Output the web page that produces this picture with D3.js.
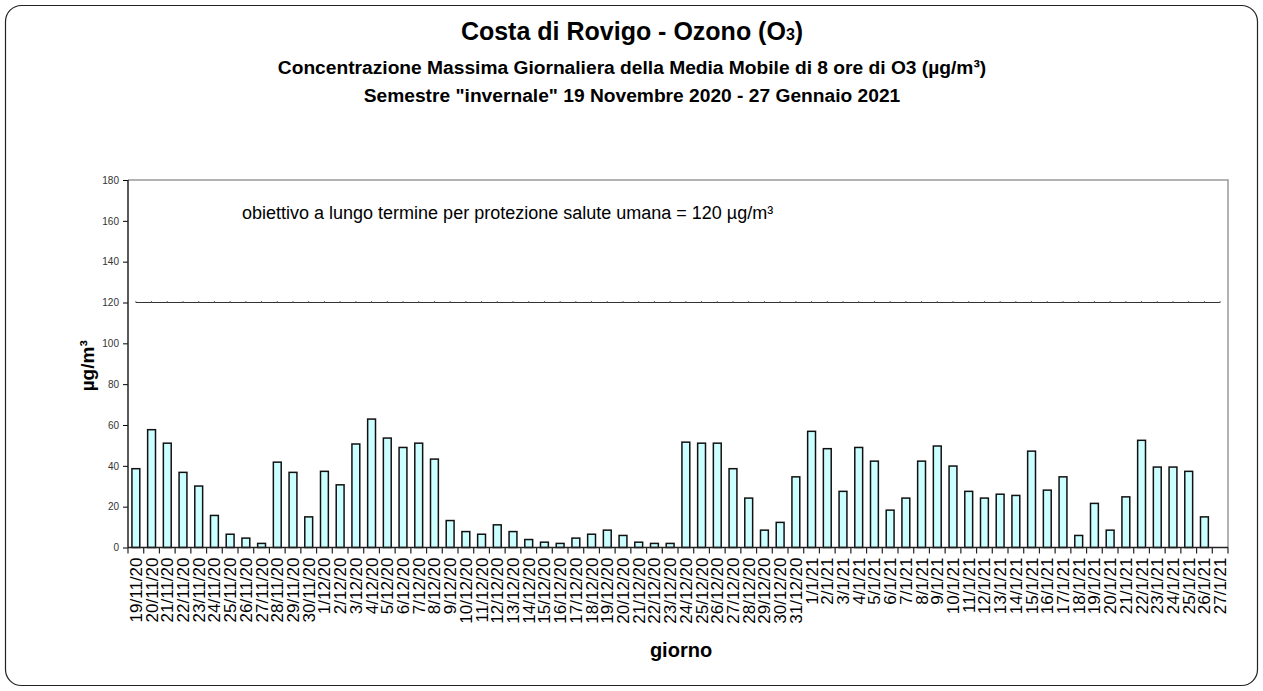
<!DOCTYPE html>
<head>
<meta charset="utf-8">
<script src="https://d3js.org/d3.v7.min.js"></script>
<style>
body {
	margin: 0;
	background: #fff;
}
svg text {
	font-family: "Liberation Sans", Arial, sans-serif;
}
.y-axis path { display: none; }
.y-axis text { fill: #333; font-size: 10px; }
.x-axis path { display: none; }
.x-axis text { fill: #000; font-size: 17px; }
.bar {
	fill: #ccffff;
	stroke: #111;
	stroke-width: 1.5px;
}
</style>
</head>
<body>
<svg id="chart" width="1263" height="691"></svg>

<script>

var days = ["19/11/20","20/11/20","21/11/20","22/11/20","23/11/20","24/11/20","25/11/20","26/11/20","27/11/20","28/11/20",
	"29/11/20","30/11/20","1/12/20","2/12/20","3/12/20","4/12/20","5/12/20","6/12/20","7/12/20","8/12/20",
	"9/12/20","10/12/20","11/12/20","12/12/20","13/12/20","14/12/20","15/12/20","16/12/20","17/12/20","18/12/20",
	"19/12/20","20/12/20","21/12/20","22/12/20","23/12/20","24/12/20","25/12/20","26/12/20","27/12/20","28/12/20",
	"29/12/20","30/12/20","31/12/20","1/1/21","2/1/21","3/1/21","4/1/21","5/1/21","6/1/21","7/1/21",
	"8/1/21","9/1/21","10/1/21","11/1/21","12/1/21","13/1/21","14/1/21","15/1/21","16/1/21","17/1/21",
	"18/1/21","19/1/21","20/1/21","21/1/21","22/1/21","23/1/21","24/1/21","25/1/21","26/1/21","27/1/21"];

var o3 = [38.6, 57.7, 51.1, 36.8, 30.1, 15.7, 6.5, 4.6, 2.0, 41.8,
	36.8, 15.0, 37.3, 30.7, 50.7, 62.9, 53.6, 49.0, 51.1, 43.3,
	13.2, 7.8, 6.5, 11.1, 7.8, 3.9, 2.6, 2.0, 4.6, 6.5,
	8.5, 5.9, 2.6, 2.0, 2.0, 51.6, 51.1, 51.1, 38.6, 24.2,
	8.5, 12.3, 34.6, 56.9, 48.4, 27.5, 49.0, 42.3, 18.3, 24.2,
	42.3, 49.7, 39.9, 27.5, 24.2, 26.1, 25.5, 47.2, 28.1, 34.6,
	5.9, 21.6, 8.5, 24.8, 52.5, 39.4, 39.4, 37.3, 15.0, null];

var limit = 120;
var yTicks = [0, 20, 40, 60, 80, 100, 120, 140, 160, 180];

var svg = d3.select("#chart"),
	margin = {top: 180, right: 35, bottom: 143.5, left: 128},
	W = +svg.attr("width"),
	H = +svg.attr("height");

var x = d3.scaleBand()
	.domain(days)
	.range([margin.left, W - margin.right])
	.paddingInner(0.5)
	.paddingOuter(0.25);

var y = d3.scaleLinear()
	.domain([0, 180])
	.range([H - margin.bottom, margin.top]);

// outer frame
svg.append("rect")
	.attr("x", 5.5).attr("y", 5.5)
	.attr("width", W - 11).attr("height", H - 11)
	.attr("rx", 16).attr("ry", 16)
	.attr("fill", "#fff")
	.attr("stroke", "#222")
	.attr("stroke-width", 1.2);

// titles
var title = svg.append("text")
	.attr("x", 632).attr("y", 39.5)
	.attr("text-anchor", "middle")
	.attr("font-size", 25).attr("font-weight", "bold");
title.append("tspan").text("Costa di Rovigo - Ozono (O");
title.append("tspan").attr("font-size", 16).text("3");
title.append("tspan").text(")");

svg.append("text")
	.attr("x", 632).attr("y", 74)
	.attr("text-anchor", "middle")
	.attr("font-size", 19.2).attr("font-weight", "bold")
	.text("Concentrazione Massima Giornaliera della Media Mobile di 8 ore di O3 (µg/m³)");

svg.append("text")
	.attr("x", 632).attr("y", 102)
	.attr("text-anchor", "middle")
	.attr("font-size", 19.2).attr("font-weight", "bold")
	.text("Semestre \"invernale\" 19 Novembre 2020 - 27 Gennaio 2021");

// plot frame (top/right grey)
var x0 = margin.left, x1 = W - margin.right, yTop = y(180), yBot = y(0);
svg.append("path")
	.attr("d", "M" + x0 + "," + yTop + "H" + x1 + "V" + yBot)
	.attr("fill", "none")
	.attr("stroke", "#999")
	.attr("stroke-width", 1.5);

// y axis
svg.append("g")
	.attr("class", "y-axis")
	.attr("transform", "translate(" + x0 + ",0)")
	.call(d3.axisLeft(y).tickValues(yTicks).tickSize(5).tickPadding(4));

svg.append("line")
	.attr("x1", x0).attr("x2", x0)
	.attr("y1", yTop).attr("y2", yBot)
	.attr("stroke", "#222").attr("stroke-width", 1.5);

svg.append("text")
	.attr("transform", "translate(94," + y(89) + ") rotate(-90)")
	.attr("text-anchor", "middle")
	.attr("font-size", 19).attr("font-weight", "bold")
	.text("µg/m³");

// bars
svg.append("g").selectAll("rect")
	.data(days.map((d, i) => ({day: d, v: o3[i]})).filter(d => d.v != null))
	.enter().append("rect")
	.attr("class", "bar")
	.attr("x", d => x(d.day))
	.attr("width", x.bandwidth())
	.attr("y", d => y(d.v))
	.attr("height", d => y(0) - y(d.v));

// limit line
var cx = d => x(d) + x.bandwidth() / 2;
svg.append("line")
	.attr("x1", cx(days[0])).attr("x2", cx(days[days.length - 1]))
	.attr("y1", y(limit)).attr("y2", y(limit))
	.attr("stroke", "#333").attr("stroke-width", 1.2);

svg.append("g").selectAll("line")
	.data(days)
	.enter().append("line")
	.attr("x1", d => cx(d)).attr("x2", d => cx(d))
	.attr("y1", y(limit) - 1.5).attr("y2", y(limit))
	.attr("stroke", "#666").attr("stroke-width", 1);

svg.append("text")
	.attr("x", 242).attr("y", 219)
	.attr("font-size", 18)
	.text("obiettivo a lungo termine per protezione salute umana = " + limit + " µg/m³");

// x axis: baseline + boundary ticks
svg.append("line")
	.attr("x1", x0).attr("x2", x1)
	.attr("y1", yBot).attr("y2", yBot)
	.attr("stroke", "#222").attr("stroke-width", 1.5);

var step = x.step();
svg.append("g").selectAll("line")
	.data(d3.range(days.length + 1))
	.enter().append("line")
	.attr("x1", i => x0 + i * step).attr("x2", i => x0 + i * step)
	.attr("y1", yBot).attr("y2", yBot + 6)
	.attr("stroke", "#222").attr("stroke-width", 1.2);

svg.append("g")
	.attr("class", "x-axis")
	.attr("transform", "translate(0," + yBot + ")")
	.call(d3.axisBottom(x).tickSize(0))
	.selectAll("text")
	.attr("text-anchor", "end")
	.attr("transform", "rotate(-90)")
	.attr("x", -10)
	.attr("y", 0)
	.attr("dy", "0.35em");

svg.append("text")
	.attr("x", 681).attr("y", 657)
	.attr("text-anchor", "middle")
	.attr("font-size", 20).attr("font-weight", "bold")
	.text("giorno");

</script>
</body>
